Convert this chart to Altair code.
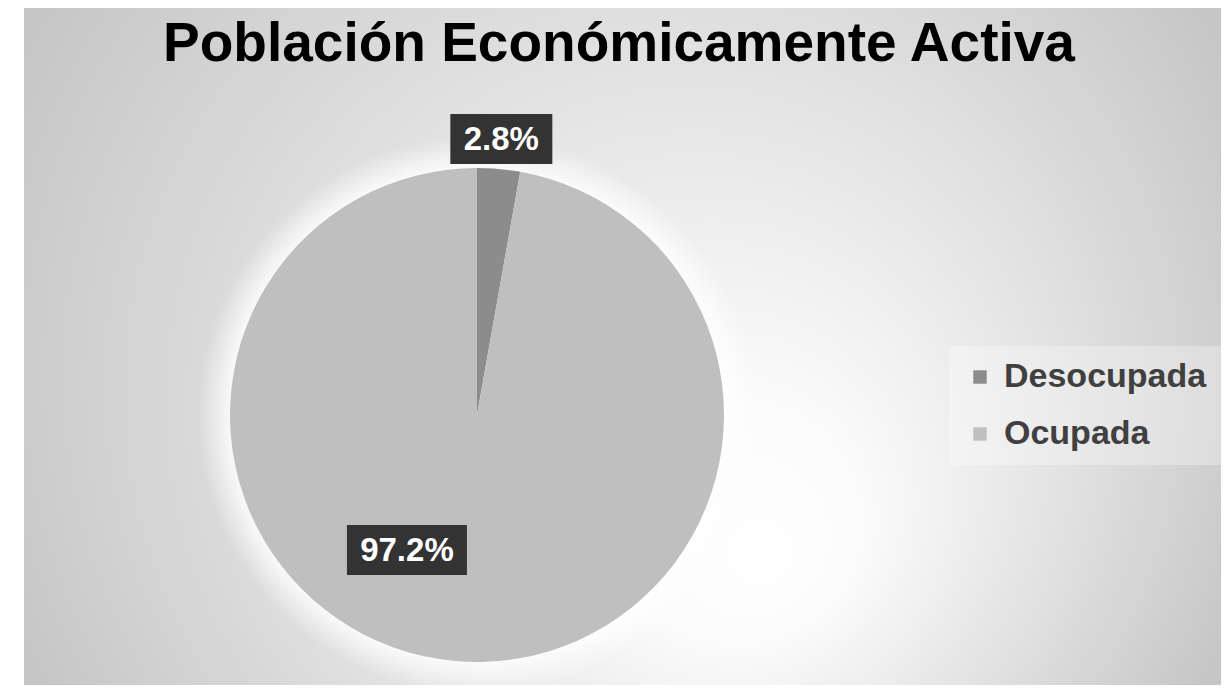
import altair as alt
import pandas as pd

# ---- data ----
categories = ["Desocupada", "Ocupada"]
values = [2.8, 97.2]
colors = ["#8c8c8c", "#bfbfbf"]
title_text = "Población Económicamente Activa"

df = pd.DataFrame({"category": categories, "value": values})

# ---- layout / style constants ----
W, H = 1213, 677
CX, CY, R = 469, 407, 247
FONT = "Liberation Sans"

base = alt.Chart(df)

bg = alt.Chart(pd.DataFrame({"a": [0]})).mark_rect(
    fill=alt.Gradient(
        gradient="radial",
        x1=0.62, y1=0.68, r1=0.0,
        x2=0.5, y2=0.5, r2=0.56,
        stops=[
            alt.GradientStop(offset=0.0, color="#ffffff"),
            alt.GradientStop(offset=0.18, color="#fbfbfb"),
            alt.GradientStop(offset=1.0, color="#c6c6c6"),
        ],
    )
).encode(x=alt.value(16), x2=alt.value(W), y=alt.value(0), y2=alt.value(H))

halo = alt.Chart(pd.DataFrame({"a": [0]})).mark_arc(
    fill=alt.Gradient(
        gradient="radial",
        x1=0.5, y1=0.5, r1=0.0,
        x2=0.5, y2=0.5, r2=0.5,
        stops=[
            alt.GradientStop(offset=0.0, color="rgba(255,255,255,0.9)"),
            alt.GradientStop(offset=0.88, color="rgba(255,255,255,0.85)"),
            alt.GradientStop(offset=1.0, color="rgba(255,255,255,0)"),
        ],
    )
).encode(
    x=alt.value(CX), y=alt.value(CY),
    theta=alt.value(0), theta2=alt.value(6.2832),
    radius=alt.value(R + 32),
)

pie = base.mark_arc(stroke=None).encode(
    theta=alt.Theta("value:Q", stack=True),
    color=alt.Color(
        "category:N",
        scale=alt.Scale(domain=categories, range=colors),
        sort=categories,
        legend=alt.Legend(
            title=None,
            orient="none",
            legendX=941,
            legendY=338,
            symbolType="square",
            symbolSize=180,
            symbolStrokeWidth=0,
            symbolOpacity=1,
            labelFont=FONT,
            labelFontSize=34,
            labelFontWeight="bold",
            labelColor="#404040",
            labelOffset=7,
            labelLimit=400,
            rowPadding=23,
            padding=14,
            fillColor="rgba(255,255,255,0.3)",
        ),
    ),
    order=alt.Order("category:N"),
    x=alt.value(CX),
    y=alt.value(CY),
    radius=alt.value(R),
)

labels_base = (
    base.transform_window(cum="sum(value)", sort=[alt.SortField("category")])
    .transform_joinaggregate(total="sum(value)")
    .transform_calculate(
        ang="(datum.cum - datum.value/2)/datum.total*2*PI + (datum.category == 'Ocupada' ? 0.391 : 0)",
        lr="datum.category == 'Ocupada' ? 152 : 277",
        label="format(datum.value, '.1f') + '%'",
    )
    .transform_calculate(
        lx=f"{CX} + datum.lr*sin(datum.ang)",
        ly=f"{CY} - datum.lr*cos(datum.ang)",
        bw="length(datum.label)*18 + 30",
    )
    .transform_calculate(
        bx1="datum.lx - datum.bw/2",
        bx2="datum.lx + datum.bw/2",
        by1="datum.ly - 25",
        by2="datum.ly + 25",
    )
)

boxes = labels_base.mark_rect(color="#333333").encode(
    x=alt.X("bx1:Q", scale=None, axis=None),
    x2="bx2:Q",
    y=alt.Y("by1:Q", scale=None, axis=None),
    y2="by2:Q",
)

texts = labels_base.mark_text(
    font=FONT, fontSize=33, fontWeight="bold", color="#ffffff",
    align="center", baseline="middle", dy=1,
).encode(
    x=alt.X("lx:Q", scale=None, axis=None),
    y=alt.Y("ly:Q", scale=None, axis=None),
    text="label:N",
)

title = alt.Chart(pd.DataFrame({"t": [title_text]})).mark_text(
    font=FONT, fontSize=55, fontWeight="bold", color="#000000",
    align="center", baseline="alphabetic",
).encode(x=alt.value(611), y=alt.value(53), text="t:N")

chart = (
    alt.layer(bg, halo, pie, boxes, texts, title)
    .properties(width=W, height=H, autosize="none", padding=0, background="#ffffff")
    .configure_view(stroke=None)
)

chart.save("out.html", embed_options={"renderer": "svg", "actions": False})
